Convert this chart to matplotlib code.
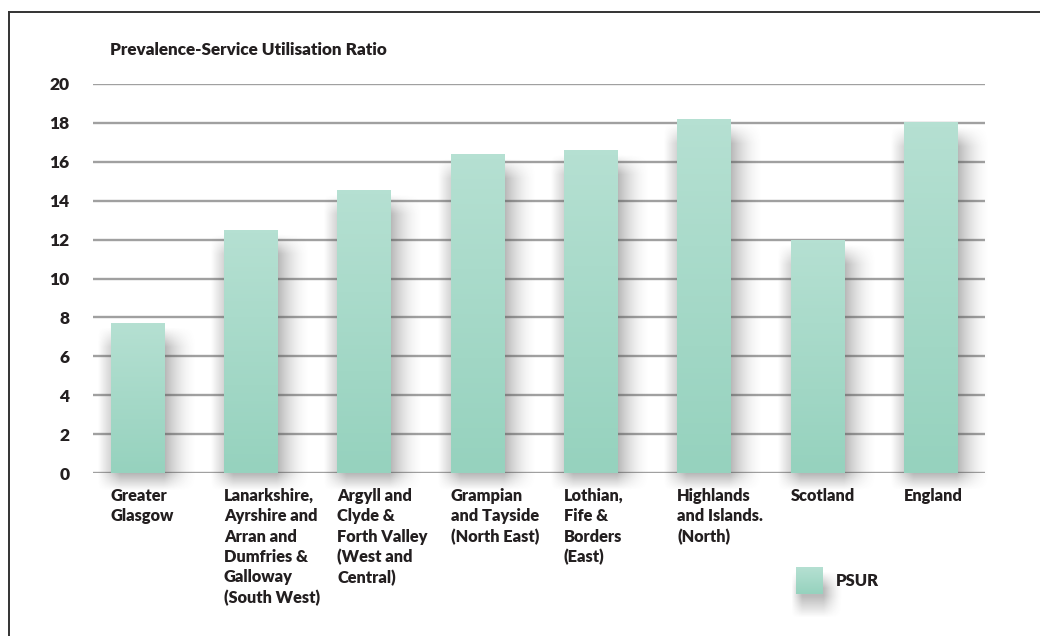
import matplotlib
matplotlib.use("Agg")
import matplotlib.pyplot as plt
import numpy as np
from matplotlib.lines import Line2D
from matplotlib.colors import to_rgb

plt.rcParams["font.family"] = ["Lato", "DejaVu Sans"]

# data
regions = [
    "Greater\nGlasgow",
    "Lanarkshire,\nAyrshire and\nArran and\nDumfries &\nGalloway\n(South West)",
    "Argyll and\nClyde &\nForth Valley\n(West and\nCentral)",
    "Grampian\nand Tayside\n(North East)",
    "Lothian,\nFife &\nBorders\n(East)",
    "Highlands\nand Islands.\n(North)",
    "Scotland",
    "England",
]
psur = [7.7, 12.5, 14.55, 16.4, 16.6, 18.2, 12.0, 18.05]
yticks = [0, 2, 4, 6, 8, 10, 12, 14, 16, 18, 20]

TEXT = "#231f20"
GRID = "#a0a0a0"
TOP_C = "#b5e0d2"
BOT_C = "#96d2be"
BAR_W = 0.47
WEIGHT = "heavy"

fig = plt.figure(figsize=(10.4, 6.36), dpi=100)
fig.patch.set_facecolor("white")
ax = fig.add_axes([93 / 1040, 163 / 636, 892 / 1040, 389 / 636])

for s in ax.spines.values():
    s.set_visible(False)
ax.set_yticks(yticks)
ax.tick_params(axis="y", length=0, pad=17, labelsize=12.5, labelcolor=TEXT)
for t in ax.get_yticklabels():
    t.set_fontweight(WEIGHT)
ax.set_xticks([])
ax.yaxis.grid(True, color=GRID, lw=1.7, zorder=0)
ax.set_axisbelow(True)

x = np.arange(len(psur))


def shadow(ax, xl, h):
    # soft grey shadow, mostly to the right of the bar and a little below it
    xr = xl + BAR_W
    nx, ny = 80, 160
    x0, x1 = xl - 0.15, xr + 0.35
    y0, y1 = -0.9, h
    xs = np.linspace(x0, x1, nx)
    ys = np.linspace(y0, y1, ny)
    fx = np.clip((xs - (xl - 0.12)) / 0.2, 0, 1) * \
        np.clip(1 - (xs - xr) / 0.3, 0, 1) ** 1.8
    fy = np.clip((ys + 0.9) / 0.9, 0, 1) * np.clip((h - 0.2 - ys) / 1.0, 0, 1)
    img = np.zeros((ny, nx, 4))
    img[..., :3] = 0.3
    img[..., 3] = np.outer(fy, fx) * 0.42
    im = ax.imshow(img, extent=(x0, x1, y0, y1), origin="lower",
                   aspect="auto", zorder=1, interpolation="bilinear")
    im.set_clip_on(False)


bars = ax.bar(x, psur, width=BAR_W, color=BOT_C, zorder=3)
for xi, h, b in zip(x, psur, bars):
    xl = xi - BAR_W / 2
    shadow(ax, xl, h)
    grad = np.linspace(0, 1, 64)[:, None, None]
    img = (1 - grad) * np.array(to_rgb(BOT_C)) + grad * np.array(to_rgb(TOP_C))
    im = ax.imshow(img, extent=(xl, xl + BAR_W, 0, h), origin="lower",
                   aspect="auto", zorder=4)
    im.set_clip_path(b)

ax.set_xlim(-0.39, 7.48)
ax.set_ylim(0, 20)

for xi, lab in zip(x, regions):
    ax.text(xi - BAR_W / 2, -0.78, lab, ha="left", va="top", fontsize=11.8,
            fontweight=WEIGHT, color=TEXT, linespacing=1.33)

fig.text(110 / 1040, 1 - 50 / 636, "Prevalence-Service Utilisation Ratio",
         ha="left", va="center", fontsize=12.3, fontweight=WEIGHT, color=TEXT)

# legend
lax = fig.add_axes([796 / 1040, 1 - 594 / 636, 27 / 1040, 27 / 636])
lax.axis("off")
xs = np.linspace(-0.2, 1.7, 50)
ys = np.linspace(-0.9, 1.0, 50)
fx = np.clip((xs + 0.2) / 0.4, 0, 1) * np.clip(1 - (xs - 1.0) / 0.7, 0, 1) ** 1.5
fy = np.clip((ys + 0.9) / 0.8, 0, 1) * np.clip((0.8 - ys) / 0.6, 0, 1)
simg = np.zeros((50, 50, 4))
simg[..., :3] = 0.3
simg[..., 3] = np.outer(fy, fx) * 0.38
si = lax.imshow(simg, extent=(-0.2, 1.7, -0.9, 1.0), origin="lower",
                aspect="auto", zorder=1, interpolation="bilinear")
si.set_clip_on(False)
grad = np.linspace(0, 1, 32)[:, None, None]
limg = (1 - grad) * np.array(to_rgb(BOT_C)) + grad * np.array(to_rgb(TOP_C))
lax.imshow(limg, extent=(0, 1, 0, 1), origin="lower", aspect="auto", zorder=2)
lax.set_xlim(0, 1)
lax.set_ylim(0, 1)
fig.text(836 / 1040, 1 - 581 / 636, "PSUR", ha="left", va="center",
         fontsize=12, fontweight=WEIGHT, color=TEXT)

# outer frame (only top and left edges fall inside the picture)
fy_top = 1 - 12 / 636
fx_left = 9 / 1040
fig.add_artist(Line2D([fx_left, fx_left], [0, fy_top], color="#333333", lw=1.4))
fig.add_artist(Line2D([fx_left, 1], [fy_top, fy_top], color="#333333", lw=1.4))

fig.savefig("out.png", dpi=100, facecolor="white")
